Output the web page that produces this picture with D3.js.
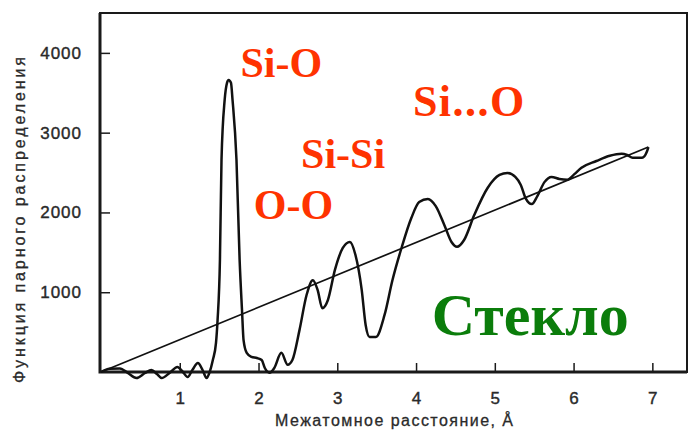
<!DOCTYPE html>
<html>
<head>
<meta charset="utf-8">
<script src="https://cdn.jsdelivr.net/npm/d3@7"></script>
<style>
  body { margin: 0; background: #fff; }
  svg { display: block; }
</style>
</head>
<body>
<div id="graph"></div>
<script>
// pair distribution curve of glass
var rValues = [0, 0.11, 0.24, 0.34, 0.45, 0.56, 0.64, 0.71, 0.77, 0.87, 0.97, 1.04, 1.10, 1.16, 1.23, 1.29, 1.34,
  1.38, 1.42, 1.46, 1.48, 1.51, 1.53, 1.57, 1.60, 1.62, 1.65, 1.67, 1.72, 1.76, 1.79, 1.81, 1.85, 1.91,
  1.98, 2.04, 2.08, 2.14, 2.20, 2.29, 2.37, 2.43, 2.52, 2.61, 2.69, 2.75, 2.81, 2.88, 2.97, 3.07, 3.16,
  3.23, 3.31, 3.36, 3.41, 3.49, 3.60, 3.70, 3.82, 3.94, 4.04, 4.15, 4.25, 4.36, 4.45, 4.52, 4.61, 4.74,
  4.91, 5.06, 5.16, 5.26, 5.33, 5.39, 5.47, 5.54, 5.63, 5.72, 5.82, 5.92, 6.01, 6.10, 6.29, 6.46, 6.61,
  6.68, 6.75, 6.87, 6.93, 6.95];
var gValues = [0, 40, 45, -12, -75, -12, 25, -25, -75, -12, 63, 0, -63, 25, 113, 25, -75,
  0, 150, 365, 650, 1405, 2660, 3410, 3625, 3660, 3625, 3410, 2660, 1405, 780, 400, 240, 190,
  175, 150, 50, -10, 50, 240, 90, 150, 525, 965, 1150, 1030, 800, 900, 1280, 1555, 1630,
  1470, 1030, 590, 440, 440, 715, 1150, 1570, 1930, 2130, 2170, 2080, 1840, 1630, 1570, 1655, 1970,
  2310, 2470, 2495, 2445, 2345, 2180, 2105, 2205, 2380, 2445, 2420, 2410, 2480, 2560, 2645, 2710, 2735,
  2720, 2685, 2685, 2760, 2820];

// average density line 4*pi*r*rho0
var lineR = [0, 6.95];
var lineG = [0, 2820];

var xTicks = [1, 2, 3, 4, 5, 6, 7];
var yTicks = [1000, 2000, 3000, 4000];

var peakLabels = ["Si-O", "O-O", "Si-Si", "Si...O"];
var peakLabelR = [1.77, 1.94, 2.54, 3.96];
var peakLabelG = [3700, 1920, 2560, 3210];

var WIDTH = 692, HEIGHT = 435;
var margin = {left: 100, top: 13, right: 5, bottom: 63};

var svg = d3.select("#graph").append("svg")
  .attr("width", WIDTH)
  .attr("height", HEIGHT);

var x = d3.scaleLinear().domain([0, 7.44]).range([margin.left + 1, WIDTH - margin.right]);
var y = d3.scaleLinear().domain([0, 4500]).range([HEIGHT - margin.bottom, margin.top]);

var axisColor = "#1a1a1a";
var labelFont = "'Liberation Sans', Arial, sans-serif";
var serifFont = "'Liberation Serif', 'Times New Roman', serif";

// frame
svg.append("rect")
  .attr("x", margin.left)
  .attr("y", margin.top)
  .attr("width", WIDTH - margin.right - margin.left)
  .attr("height", HEIGHT - margin.bottom - margin.top)
  .attr("fill", "none")
  .attr("stroke", axisColor)
  .attr("stroke-width", 2);

// left and bottom axes a bit heavier, like the scan
svg.append("path")
  .attr("d", "M" + margin.left + "," + margin.top + "V" + (HEIGHT - margin.bottom) + "H" + (WIDTH - margin.right))
  .attr("fill", "none")
  .attr("stroke", axisColor)
  .attr("stroke-width", 3);

// x axis, ticks point inward
var xAxis = svg.append("g")
  .attr("transform", "translate(0," + y(0) + ")")
  .call(d3.axisBottom(x).tickValues(xTicks).tickSize(-9).tickPadding(20).tickFormat(d3.format("d")));
xAxis.select(".domain").remove();
xAxis.selectAll(".tick line").attr("stroke", axisColor).attr("stroke-width", 1.5);
xAxis.selectAll(".tick text")
  .attr("fill", "#2a2a2a")
  .attr("stroke", "#2a2a2a")
  .attr("stroke-width", 0.4)
  .style("font-family", labelFont)
  .style("font-size", "17px");

// y axis
var yAxis = svg.append("g")
  .attr("transform", "translate(" + margin.left + ",0)")
  .call(d3.axisLeft(y).tickValues(yTicks).tickSize(-10).tickPadding(18).tickFormat(d3.format("d")));
yAxis.select(".domain").remove();
yAxis.selectAll(".tick line").attr("stroke", axisColor).attr("stroke-width", 1.5);
yAxis.selectAll(".tick text")
  .attr("fill", "#2a2a2a")
  .attr("stroke", "#2a2a2a")
  .attr("stroke-width", 0.4)
  .style("font-family", labelFont)
  .style("font-size", "17px")
  .style("letter-spacing", "1px");

// axis titles
svg.append("text")
  .attr("x", 394)
  .attr("y", 426)
  .attr("text-anchor", "middle")
  .attr("textLength", 238)
  .attr("lengthAdjust", "spacing")
  .attr("fill", "#2a2a2a")
  .attr("stroke", "#2a2a2a")
  .attr("stroke-width", 0.3)
  .style("font-family", labelFont)
  .style("font-size", "16px")
  .text("Межатомное расстояние, Å");

svg.append("text")
  .attr("transform", "translate(25,220) rotate(-90)")
  .attr("text-anchor", "middle")
  .attr("textLength", 326)
  .attr("lengthAdjust", "spacing")
  .attr("fill", "#2a2a2a")
  .attr("stroke", "#2a2a2a")
  .attr("stroke-width", 0.3)
  .style("font-family", labelFont)
  .style("font-size", "16px")
  .text("Функция парного распределения");

// curves
var line = d3.line()
  .x(function(d) { return x(d[0]); })
  .y(function(d) { return y(d[1]); });

svg.append("path")
  .datum(d3.zip(lineR, lineG))
  .attr("d", line)
  .attr("fill", "none")
  .attr("stroke", "#111")
  .attr("stroke-width", 1.7);

svg.append("path")
  .datum(d3.zip(rValues, gValues))
  .attr("d", line.curve(d3.curveMonotoneX))
  .attr("fill", "none")
  .attr("stroke", "#111")
  .attr("stroke-width", 2.5)
  .attr("stroke-linejoin", "round");

// peak labels
svg.selectAll(".peak")
  .data(peakLabels)
  .enter().append("text")
  .attr("class", "peak")
  .attr("x", function(d, i) { return x(peakLabelR[i]); })
  .attr("y", function(d, i) { return y(peakLabelG[i]); })
  .attr("fill", "#ff3300")
  .style("font-family", serifFont)
  .style("font-weight", "bold")
  .style("font-size", function(d) { return d === "Si...O" ? "44px" : "42px"; })
  .style("letter-spacing", function(d) { return d === "Si...O" ? "1.5px" : "0px"; })
  .text(function(d) { return d; });

svg.append("text")
  .attr("x", x(4.2))
  .attr("y", y(460))
  .attr("fill", "#0b7d0b")
  .style("font-family", serifFont)
  .style("font-weight", "bold")
  .style("font-size", "60px")
  .text("Стекло");
</script>
</body>
</html>
